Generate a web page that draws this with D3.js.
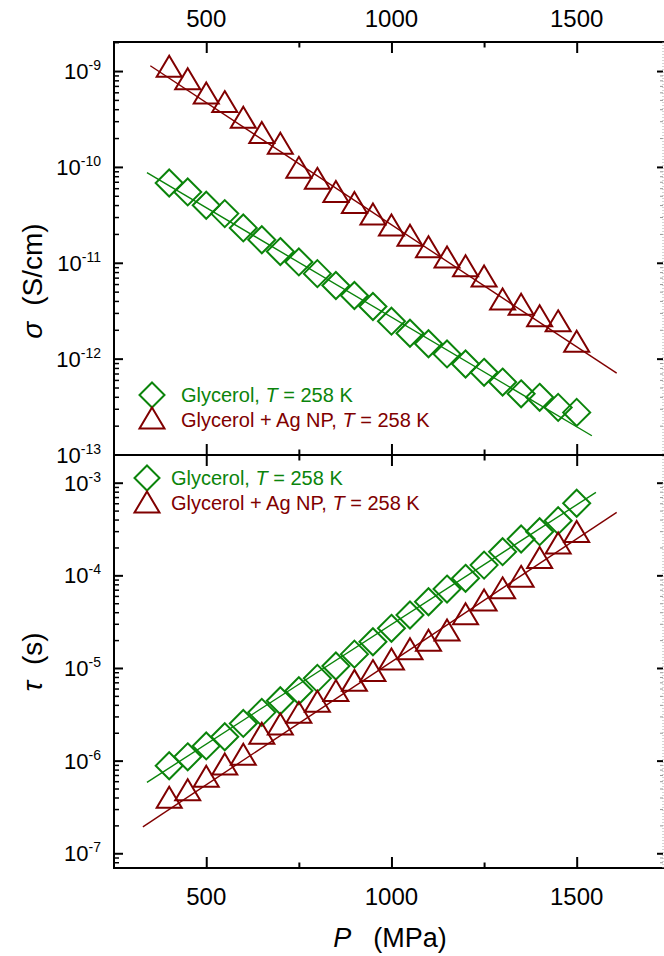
<!DOCTYPE html>
<html>
<head>
<meta charset="utf-8">
<script src="https://cdn.jsdelivr.net/npm/d3@7"></script>
<style>
body { margin:0; padding:0; background:#fff; }
svg { display:block; font-family:"Liberation Sans", Arial, sans-serif; }
.domain { display:none; }
</style>
</head>
<body>
<svg id="chart" width="664" height="956"></svg>
<script>
// pressure (MPa), same for all four series
var pressure = [400, 450, 500, 550, 600, 650, 700, 750, 800, 850, 900, 950,
  1000, 1050, 1100, 1150, 1200, 1250, 1300, 1350, 1400, 1450, 1500];

// conductivity sigma (S/cm)
var sigmaGly = [6.8e-11, 5.48e-11, 3.98e-11, 3.26e-11, 2.31e-11, 1.74e-11, 1.31e-11, 1.02e-11,
  7.7e-12, 5.8e-12, 4.56e-12, 3.5e-12, 2.46e-12, 1.84e-12, 1.43e-12, 1.12e-12, 8.8e-13,
  7.2e-13, 5.7e-13, 4.3e-13, 3.95e-13, 3.1e-13, 2.75e-13];
var sigmaAg = [1.12e-9, 8.3e-10, 5.9e-10, 4.8e-10, 3.3e-10, 2.29e-10, 1.77e-10, 9.9e-11,
  7.6e-11, 5.55e-11, 4.26e-11, 3.23e-11, 2.48e-11, 1.94e-11, 1.47e-11, 1.15e-11, 9.3e-12,
  7.3e-12, 4.2e-12, 3.7e-12, 2.8e-12, 2.48e-12, 1.52e-12];

// relaxation time tau (s)
var tauGly = [8.8e-7, 1.10e-6, 1.44e-6, 1.81e-6, 2.52e-6, 3.32e-6, 4.43e-6, 5.68e-6,
  7.73e-6, 1.05e-5, 1.41e-5, 1.92e-5, 2.68e-5, 3.73e-5, 5.19e-5, 7.11e-5, 9.29e-5,
  1.29e-4, 1.80e-4, 2.47e-4, 2.96e-4, 3.89e-4, 6.0e-4];
var tauAg = [4.02e-7, 4.84e-7, 6.77e-7, 9.2e-7, 1.17e-6, 1.98e-6, 2.49e-6, 3.32e-6,
  4.37e-6, 5.70e-6, 7.35e-6, 9.37e-6, 1.25e-5, 1.61e-5, 1.99e-5, 2.57e-5, 3.85e-5,
  5.41e-5, 7.33e-5, 9.75e-5, 1.56e-4, 2.23e-4, 2.97e-4];

// fitted lines (end points)
var fitSigmaGly = [[340, 8.73e-11], [1541, 1.57e-13]];
var fitSigmaAg  = [[349, 1.135e-9], [1608, 7.05e-13]];
var fitTauGly   = [[340, 5.82e-7], [1552, 7.87e-4]];
var fitTauAg    = [[329, 1.93e-7], [1608, 4.79e-4]];

var xTicks = [500, 1000, 1500];
var xMinor = [750, 1250];
var sigmaDecades = [-13, -12, -11, -10, -9];
var tauDecades = [-7, -6, -5, -4, -3];
var legendLabels = ["Glycerol, ", "Glycerol + Ag NP, "];

var GREEN = "#0b840b", RED = "#800000";

var L = 114, R = 663, T = 42, MID = 455, B = 868;

var svg = d3.select("#chart");

var x = d3.scaleLinear().domain([251, 1733]).range([L, R]);
var yTop = d3.scaleLog().domain([Math.pow(10, -13.005), Math.pow(10, -8.697)]).range([MID, T]);
var yBot = d3.scaleLog().domain([Math.pow(10, -7.159), Math.pow(10, -2.701)]).range([B, MID]);

function minorVals(decs, sc) {
  var out = [], d = sc.domain();
  var all = [decs[0] - 1].concat(decs);
  all.forEach(function(e) {
    for (var m = 2; m <= 9; m++) {
      var v = m * Math.pow(10, e);
      if (v > d[0] && v < d[1]) out.push(v);
    }
  });
  return out;
}

function yAxes(sc, decs) {
  var majors = decs.map(function(e) { return Math.pow(10, e); })
    .filter(function(v) { return v >= sc.domain()[0] * 0.999 && v <= sc.domain()[1]; });
  var minors = minorVals(decs, sc);

  svg.append("g").attr("transform", "translate(" + L + ",0)")
    .call(d3.axisLeft(sc).tickValues(majors).tickSize(-9).tickFormat(""))
    .selectAll("line").attr("stroke", "#000").attr("stroke-width", 2);
  svg.append("g").attr("transform", "translate(" + L + ",0)")
    .call(d3.axisLeft(sc).tickValues(minors).tickSize(-5).tickFormat(""))
    .selectAll("line").attr("stroke", "#000").attr("stroke-width", 1.5);

  // right side: faint clipped axis
  svg.append("g").attr("transform", "translate(" + R + ",0)")
    .call(d3.axisRight(sc).tickValues(majors).tickSize(-6).tickFormat(""))
    .selectAll("line").attr("stroke", "#000").attr("stroke-width", 2);
  svg.append("g").attr("transform", "translate(" + R + ",0)")
    .call(d3.axisRight(sc).tickValues(minors).tickSize(-3).tickFormat(""))
    .selectAll("line").attr("stroke", "#999").attr("stroke-width", 1);

  // labels 10^n
  decs.forEach(function(e) {
    var v = Math.pow(10, e);
    var t = svg.append("text")
      .attr("x", 101).attr("y", sc(v) + 8)
      .attr("text-anchor", "end")
      .attr("font-size", 22).attr("fill", "#000");
    t.append("tspan").text("10");
    t.append("tspan").attr("dy", -9).attr("font-size", 14).text("-" + Math.abs(e));
  });
}

yAxes(yTop, sigmaDecades);
yAxes(yBot, tauDecades);

// x axes: top and bottom
function xAxis(y0, orient, size) {
  var mk = function() { return orient === "top" ? d3.axisBottom(x) : d3.axisTop(x); };
  svg.append("g").attr("transform", "translate(0," + y0 + ")")
    .call(mk().tickValues(xTicks).tickSize(size).tickFormat(""))
    .selectAll("line").attr("stroke", "#000").attr("stroke-width", 2);
  svg.append("g").attr("transform", "translate(0," + y0 + ")")
    .call(mk().tickValues(xMinor).tickSize(size / 2).tickFormat(""))
    .selectAll("line").attr("stroke", "#000").attr("stroke-width", 2);
}
xAxis(T, "top", 11);
xAxis(MID, "top", 11);
xAxis(MID, "bottom", 11);
xAxis(B, "bottom", 11);

xTicks.forEach(function(v) {
  svg.append("text").attr("x", x(v)).attr("y", 27).attr("text-anchor", "middle")
    .attr("font-size", 24).text(v);
  svg.append("text").attr("x", x(v)).attr("y", 905).attr("text-anchor", "middle")
    .attr("font-size", 24).text(v);
});

// frame lines
[T, MID, B].forEach(function(yy) {
  svg.append("line").attr("x1", L - 1).attr("x2", 664).attr("y1", yy).attr("y2", yy)
    .attr("stroke", "#000").attr("stroke-width", 2);
});
svg.append("line").attr("x1", L).attr("x2", L).attr("y1", T - 1).attr("y2", B + 1)
  .attr("stroke", "#000").attr("stroke-width", 2);
svg.append("line").attr("x1", R).attr("x2", R).attr("y1", T).attr("y2", B)
  .attr("stroke", "#aaa").attr("stroke-width", 1).attr("stroke-dasharray", "1,2");

// axis titles
var tx = svg.append("text").attr("x", 390).attr("y", 947).attr("text-anchor", "middle")
  .attr("font-size", 27);
tx.append("tspan").attr("font-style", "italic").text("P");
tx.append("tspan").attr("dx", 22).text("(MPa)");

var ty1 = svg.append("text").attr("transform", "translate(42,281) rotate(-90)")
  .attr("text-anchor", "middle").attr("font-size", 28);
ty1.append("tspan").attr("font-style", "italic").text("σ");
ty1.append("tspan").attr("dx", 16).text("(S/cm)");

var ty2 = svg.append("text").attr("transform", "translate(42,662) rotate(-90)")
  .attr("text-anchor", "middle").attr("font-size", 28);
ty2.append("tspan").attr("font-style", "italic").text("τ");
ty2.append("tspan").attr("dx", 16).text("(s)");

// marker shapes
function diamondPath(cx, cy, h) {
  return "M" + cx + "," + (cy - h) + "L" + (cx + h) + "," + cy + "L" + cx + "," + (cy + h) + "L" + (cx - h) + "," + cy + "Z";
}
function trianglePath(cx, cy) {
  return "M" + cx + "," + (cy - 10.5) + "L" + (cx + 12.5) + "," + (cy + 10.5) + "L" + (cx - 12.5) + "," + (cy + 10.5) + "Z";
}

var line = function(sc) {
  return d3.line().x(function(d) { return x(d[0]); }).y(function(d) { return sc(d[1]); });
};

function series(sc, vals, fit, color, shape) {
  svg.append("path").datum(fit).attr("d", line(sc))
    .attr("fill", "none").attr("stroke", color).attr("stroke-width", 1.4);
  svg.append("g").selectAll("path").data(vals).enter().append("path")
    .attr("d", function(v, i) {
      var cx = x(pressure[i]), cy = sc(v);
      return shape === "d" ? diamondPath(cx, cy, 13.5) : trianglePath(cx, cy);
    })
    .attr("fill", "none").attr("stroke", color).attr("stroke-width", 2);
}

series(yTop, sigmaGly, fitSigmaGly, GREEN, "d");
series(yTop, sigmaAg, fitSigmaAg, RED, "t");
series(yBot, tauGly, fitTauGly, GREEN, "d");
series(yBot, tauAg, fitTauAg, RED, "t");

// legends
function legend(mx, my1, my2, tx0, b1, b2) {
  svg.append("path").attr("d", diamondPath(mx, my1, 12.5))
    .attr("fill", "none").attr("stroke", GREEN).attr("stroke-width", 2);
  svg.append("path").attr("d", trianglePath(mx, my2))
    .attr("fill", "none").attr("stroke", RED).attr("stroke-width", 2);
  [[b1, GREEN, legendLabels[0]], [b2, RED, legendLabels[1]]].forEach(function(r) {
    var t = svg.append("text").attr("x", tx0).attr("y", r[0]).attr("font-size", 20).attr("fill", r[1]);
    t.append("tspan").text(r[2]);
    t.append("tspan").attr("font-style", "italic").text("T");
    t.append("tspan").text(" = 258 K");
  });
}
legend(152, 395, 418, 181, 402, 427);
legend(147, 478, 502, 171, 485, 510);
</script>
</body>
</html>
